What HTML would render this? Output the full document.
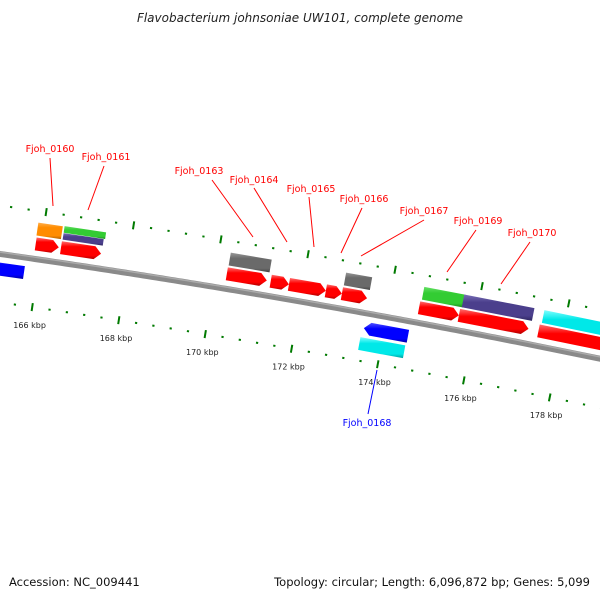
<!DOCTYPE html>
<html><head><meta charset="utf-8"><style>
html,body{margin:0;padding:0;background:#fff;}
svg{display:block;}
</style></head><body>
<svg id="chart" width="600" height="600" viewBox="0 0 600 600" xmlns="http://www.w3.org/2000/svg">
<defs>
<linearGradient id="gBack" x1="0" y1="0" x2="0" y2="1"><stop offset="0" stop-color="#b0b0b0"/><stop offset="0.5" stop-color="#888"/><stop offset="1" stop-color="#555"/></linearGradient>
</defs>
<text x="300" y="22" text-anchor="middle" font-family="DejaVu Sans, Liberation Sans, sans-serif" font-size="12" font-style="italic" fill="#222">Flavobacterium johnsoniae UW101, complete genome</text>
<g id="ticks"></g>
<g id="backbone"></g>
<g id="feats"></g>
<g id="labels"></g>
<text x="9" y="586" font-family="DejaVu Sans, Liberation Sans, sans-serif" font-size="11.5" fill="#111">Accession: NC_009441</text>
<text x="590" y="586" text-anchor="end" font-family="DejaVu Sans, Liberation Sans, sans-serif" font-size="11.5" fill="#111">Topology: circular; Length: 6,096,872 bp; Genes: 5,099</text>
</svg>
<script>
// feature data (kbp)
const featNames = ["blue-left","Fjoh_0160","Fjoh_0161a","Fjoh_0161b","red-a","red-b","Fjoh_0163","red-c","red-d","red-e","red-f","red-g","Fjoh_0166","Fjoh_0168","cyan-0168","Fjoh_0169","purple-0169","red-h","red-i","cyan-right","red-j"];
const featStart = [164.3,165.86,166.46,166.46,165.87,166.45,170.27,170.26,171.27,171.69,172.54,172.91,172.92,173.54,173.50,174.72,175.64,174.69,175.61,177.49,177.45];
const featEnd   = [165.70,166.42,167.41,167.38,166.40,167.37,171.21,171.18,171.69,172.54,172.91,173.49,173.52,174.56,174.54,175.67,177.26,175.61,177.22,179.6,179.6];
const featRow   = ["in1","out2","out2t","out2b","out1","out1","out2","out1","out1","out1","out1","out1","out2","in1","in2","out2","out2","out1","out1","out2","out1"];
const featDir   = ["rev","none","none","none","fwd","fwd","none","fwd","fwd","fwd","fwd","fwd","none","rev","none","none","none","fwd","fwd","none","fwd"];
const featColor = ["blue","orange","green","purple","red","red","gray","red","red","red","red","red","gray","blue","cyan","green","purple","red","red","cyan","red"];
const tickKbpLabels = [166,168,170,172,174,176,178];

const Cx=-1368, Cy=9857, R0=9700, A0=0.1728, K=0.004536;
function pt(k,r){const a=A0+(k-172)*K, R=R0+r;return [Cx+R*Math.sin(a), Cy-R*Math.cos(a)];}
const NS="http://www.w3.org/2000/svg";
function mk(tag,attrs,parent){const e=document.createElementNS(NS,tag);for(const k in attrs)e.setAttribute(k,attrs[k]);parent.appendChild(e);return e;}
const svg=document.getElementById('chart');
const defs=svg.querySelector('defs');
const pal={red:["#ff7070","#ff0000","#b00000"],orange:["#ffb050","#ff8c00","#b06000"],green:["#66e066","#33cc33","#1f8a1f"],purple:["#7a70b8","#4b3f8c","#2e2660"],gray:["#999","#6a6a6a","#404040"],blue:["#5050ff","#0000ff","#0000a0"],cyan:["#80ffff","#00e8e8","#00a0a0"]};
for(const c in pal){const g=mk('linearGradient',{id:'g'+c,x1:0,y1:0,x2:0,y2:1},defs);
mk('stop',{offset:0,'stop-color':pal[c][0]},g);mk('stop',{offset:0.3,'stop-color':pal[c][1]},g);mk('stop',{offset:0.8,'stop-color':pal[c][1]},g);mk('stop',{offset:1,'stop-color':pal[c][2]},g);}

// backbone
const bb=document.getElementById('backbone');
let d="";for(let k=163;k<=181;k+=0.1){const p=pt(k,0);d+=(d?"L":"M")+p[0].toFixed(2)+","+p[1].toFixed(2);}
const bp=mk('path',{d:d,stroke:'#8a8a8a','stroke-width':6,fill:'none'},bb);


let d2="";for(let k=163;k<=181;k+=0.1){const p=pt(k,1.8);d2+=(d2?"L":"M")+p[0].toFixed(2)+","+p[1].toFixed(2);}
mk('path',{d:d2,stroke:'#aaa','stroke-width':1.5,fill:'none'},bb);

// ticks
const tg=document.getElementById('ticks');
for(let i=0;i<=40;i++){const k=164+i*0.4;const major=Math.abs(k/2-Math.round(k/2))<1e-6;
  for(const rc of [48,-48]){const L=major?4:1;const a=pt(k,rc+L),b=pt(k,rc-L);
   const t=mk('line',{x1:a[0],y1:a[1],x2:b[0],y2:b[1],stroke:'#007a00','stroke-width':major?2:2.2},tg);
   
   }}
tickKbpLabels.forEach(k=>{const p=pt(k,-66);const t=mk('text',{x:p[0],y:p[1]+3,'text-anchor':'middle','font-family':'DejaVu Sans, Liberation Sans, sans-serif','font-size':'8',fill:'#222'},tg);t.textContent=k+" kbp";
 
 });

// features
const fg=document.getElementById('feats');
const rows={out1:[15,6.5],out2:[30,6.5],out2t:[33.5,3.3],out2b:[26.5,3.3],in1:[-15,6.5],in2:[-31,6.5]};
featStart.forEach((s,i)=>{const e=featEnd[i];const [rc,h]=rows[featRow[i]];const head=0.15;let P=[];
 if(featDir[i]==="fwd"){const hk=Math.max(s,e-head);P=[pt(s,rc+h),pt(hk,rc+h),pt(e,rc),pt(hk,rc-h),pt(s,rc-h)];}
 else if(featDir[i]==="rev"){const hk=Math.min(e,s+head);P=[pt(s,rc),pt(hk,rc+h),pt(e,rc+h),pt(e,rc-h),pt(hk,rc-h)];}
 else P=[pt(s,rc+h),pt(e,rc+h),pt(e,rc-h),pt(s,rc-h)];
 const poly=mk('polygon',{points:P.map(p=>p[0].toFixed(2)+","+p[1].toFixed(2)).join(" "),fill:'url(#g'+featColor[i]+')'},fg);
 
 });

// labels
const labText=["Fjoh_0160","Fjoh_0161","Fjoh_0163","Fjoh_0164","Fjoh_0165","Fjoh_0166","Fjoh_0167","Fjoh_0169","Fjoh_0170","Fjoh_0168"];
const labPos=[[50,152],[106,160],[199,174],[254,183],[311,192],[364,202],[424,214],[478,224],[532,236],[367,426]];
const labLine=[[50,158,53,206],[104,166,88,210],[212,180,253,237],[254,188,287,242],[309,197,314,247],[362,208,341,253],[424,220,361,256],[476,230,447,272],[530,242,501,284],[368,414,377,370]];
const lg=document.getElementById('labels');
labText.forEach((t,i)=>{const col=t==="Fjoh_0168"?"#0000ff":"#ff0000";const L=labLine[i];
 const ln=mk('line',{x1:L[0],y1:L[1],x2:L[2],y2:L[3],stroke:col,'stroke-width':1},lg);
 
 
 const tx=mk('text',{x:labPos[i][0],y:labPos[i][1],'text-anchor':'middle','font-family':'DejaVu Sans, Liberation Sans, sans-serif','font-size':'9.5',fill:col},lg);tx.textContent=t;
 
 });
</script>
</body></html>
